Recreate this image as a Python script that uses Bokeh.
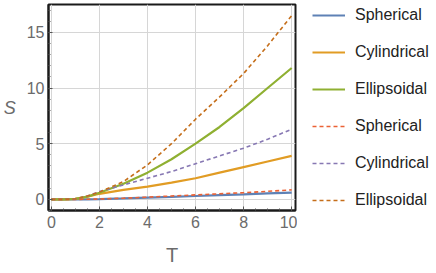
from bokeh.plotting import figure
from bokeh.models import Legend, LegendItem, Range1d, FixedTicker
from bokeh.layouts import row
from bokeh.embed import file_html
from bokeh.resources import INLINE

T = [0, 0.5, 1, 1.5, 2, 3, 4, 5, 6, 7, 8, 9, 10]
spherical = [0, 0, 0, 0, 0.02, 0.08, 0.15, 0.22, 0.3, 0.38, 0.45, 0.53, 0.6]
cylindrical = [0, 0, 0.05, 0.25, 0.5, 0.85, 1.15, 1.5, 1.9, 2.4, 2.9, 3.4, 3.9]
ellipsoidal = [0, 0, 0.05, 0.25, 0.6, 1.4, 2.4, 3.6, 5.0, 6.5, 8.2, 10.0, 11.8]
spherical_d = [0, 0, 0, 0.01, 0.03, 0.1, 0.2, 0.3, 0.4, 0.5, 0.6, 0.72, 0.85]
cylindrical_d = [0, 0, 0.05, 0.3, 0.7, 1.3, 1.9, 2.5, 3.2, 3.9, 4.6, 5.4, 6.3]
ellipsoidal_d = [0, 0, 0.05, 0.3, 0.65, 1.6, 3.1, 5.0, 7.2, 9.2, 11.3, 13.8, 16.5]
labels = ["Spherical", "Cylindrical", "Ellipsoidal", "Spherical", "Cylindrical", "Ellipsoidal"]
x_ticks = [0, 2, 4, 6, 8, 10]
y_ticks = [0, 5, 10, 15]

colors = ["#5E81B5", "#E19C24", "#8FB032", "#EB6235", "#8778B3", "#C56E1A"]
series = [spherical, cylindrical, ellipsoidal, spherical_d, cylindrical_d, ellipsoidal_d]

p = figure(width=297, height=273, output_backend="svg", toolbar_location=None,
           x_range=Range1d(-0.12, 10.16), y_range=Range1d(-1.0, 17.5),
           min_border_left=44, min_border_right=2, min_border_top=4, min_border_bottom=63)
p.outline_line_color = "#1a1a1a"
p.outline_line_width = 2
p.background_fill_color = "white"

tick_font = "Liberation Sans"
for ax in [p.xaxis[0], p.yaxis[0]]:
    ax.axis_line_color = "#1a1a1a"
    ax.axis_line_width = 2
    ax.major_tick_in = 4
    ax.major_tick_out = 0
    ax.minor_tick_in = 2
    ax.minor_tick_out = 0
    ax.major_tick_line_color = "#555555"
    ax.minor_tick_line_color = "#555555"
    ax.major_label_text_color = "#6b6b6b"
    ax.major_label_text_font = tick_font
    ax.major_label_text_font_size = "16px"
    ax.axis_label_text_color = "#6b6b6b"
    ax.axis_label_text_font = tick_font

p.xaxis.ticker = FixedTicker(ticks=x_ticks, minor_ticks=[i * 0.5 for i in range(0, 21)])
p.yaxis.ticker = FixedTicker(ticks=y_ticks, minor_ticks=list(range(-1, 18)))
p.xaxis.axis_label = "T"
p.xaxis.axis_label_text_font_size = "20px"
p.xaxis.axis_label_text_font_style = "normal"
p.xaxis.major_label_standoff = 5
p.xaxis.axis_label_standoff = 13
p.yaxis.axis_label = "S"
p.yaxis.axis_label_text_font_size = "18px"
p.yaxis.axis_label_text_font_style = "italic"
p.yaxis.axis_label_orientation = "horizontal"
p.yaxis.major_label_standoff = 4
p.yaxis.axis_label_standoff = 8

p.xgrid.ticker = FixedTicker(ticks=x_ticks)
p.ygrid.ticker = FixedTicker(ticks=y_ticks)
p.grid.grid_line_color = "#d6d6d6"
p.grid.grid_line_width = 1

# legend figure: same series drawn off-screen, only its legend is visible
lf = figure(width=139, height=273, output_backend="svg", toolbar_location=None,
            x_range=Range1d(100, 200), y_range=Range1d(100, 200),
            min_border=0, min_border_left=0, min_border_right=0,
            min_border_top=0, min_border_bottom=0)
lf.axis.visible = False
lf.grid.visible = False
lf.outline_line_color = None
lf.background_fill_color = "white"

items = []
for i, (ys, c, lab) in enumerate(zip(series, colors, labels)):
    if i < 3:
        p.line(T, ys, line_color=c, line_width=2.2)
        r = lf.line(T, ys, line_color=c, line_width=2.2)
    else:
        p.line(T, ys, line_color=c, line_width=1.6, line_dash="4 3")
        r = lf.line(T, ys, line_color=c, line_width=1.6, line_dash="4 3")
    items.append(LegendItem(label=lab, renderers=[r]))

legend = Legend(items=items, location=(15, 1), padding=0, margin=0,
                spacing=19, glyph_width=33, glyph_height=18, label_height=18,
                label_standoff=10, label_text_font="Liberation Sans",
                label_text_font_size="16px", label_text_color="#222222",
                background_fill_alpha=0, border_line_color=None)
lf.add_layout(legend, "center")

layout = row(p, lf, spacing=0)
open("out.html", "w").write(file_html(layout, INLINE))
